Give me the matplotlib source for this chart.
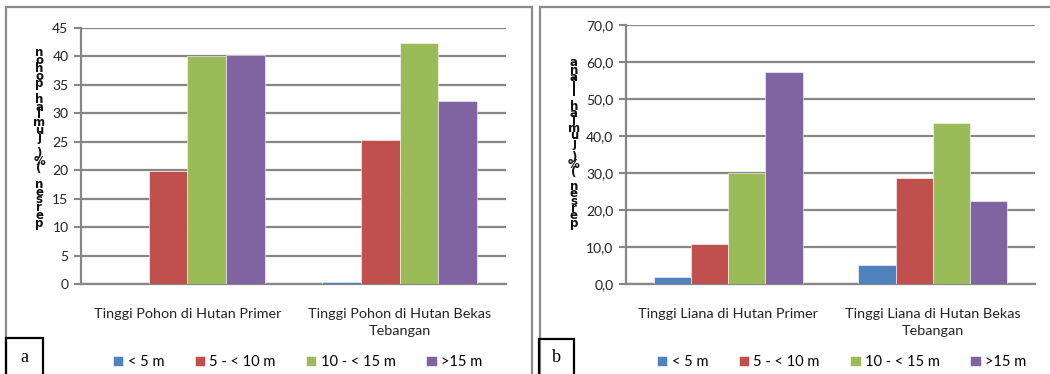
import numpy as np
import matplotlib
matplotlib.use("Agg")
import matplotlib.pyplot as plt
from matplotlib.patches import Rectangle

# data
kelas = ["< 5 m", "5 - < 10 m", "10 - < 15 m", ">15 m"]
warna = ["#4F81BD", "#C0504D", "#9BBB59", "#8064A2"]

pohon_kategori = ["Tinggi Pohon di Hutan Primer", "Tinggi Pohon di Hutan Bekas\nTebangan"]
pohon_lt5 = [0.0, 0.4]
pohon_5_10 = [19.8, 25.4]
pohon_10_15 = [40.1, 42.4]
pohon_gt15 = [40.3, 32.2]

liana_kategori = ["Tinggi Liana di Hutan Primer", "Tinggi Liana di Hutan Bekas\nTebangan"]
liana_lt5 = [1.8, 5.2]
liana_5_10 = [10.8, 28.6]
liana_10_15 = [30.0, 43.6]
liana_gt15 = [57.3, 22.3]

W, H = 1050, 374
plt.rcParams["font.family"] = ["Lato", "DejaVu Sans"]
fig = plt.figure(figsize=(W / 100, H / 100), dpi=100)

abu = "#868686"


def px(x, y):
    # pixel (dari kiri atas) -> koordinat figure
    return x / W, 1 - y / H


def gambar(rect, kategori, seri, ymax, ystep, fmt, judul_y, y_label_x, y_top, huruf, leg_x):
    ax = fig.add_axes(rect)
    x = np.arange(len(kategori))
    lebar = 0.182
    for i, s in enumerate(seri):
        ax.bar(x + (i - 1.5) * lebar, s, lebar, color=warna[i], label=kelas[i],
               edgecolor="white", linewidth=0.4, zorder=3)
    ax.set_xlim(-0.5, len(kategori) - 0.5)
    ax.set_ylim(0, ymax)
    ticks = np.arange(0, ymax + ystep / 2, ystep)
    ax.set_yticks(ticks)
    ax.set_yticklabels([fmt(t) for t in ticks], fontsize=10, color="#222222")
    ax.set_xticks(x)
    ax.set_xticklabels(kategori, fontsize=10.4, color="#222222", linespacing=1.5)
    ax.tick_params(axis="x", length=0, pad=17)
    ax.tick_params(axis="y", length=5, width=1.5, color=abu, pad=4)
    ax.grid(axis="y", color=abu, linewidth=1.6, zorder=0)
    for sp in ["top", "right"]:
        ax.spines[sp].set_visible(False)
    for sp in ["left", "bottom"]:
        ax.spines[sp].set_color(abu)
        ax.spines[sp].set_linewidth(1.6)

    # judul sumbu y: huruf ditumpuk dari bawah ke atas
    y_bawah = 223
    n = len(judul_y)
    jarak = (y_bawah - y_top) / (n - 1)
    for k, ch in enumerate(judul_y):
        fx, fy = px(y_label_x, y_bawah - k * jarak)
        fig.text(fx, fy, ch, ha="center", va="center", fontsize=8.5,
                 fontweight="bold", color="#111111", family="DejaVu Sans")

    # legenda di bawah
    lx, ly = px(leg_x, 362)
    fig.legend(handles=ax.containers, labels=kelas, loc="center left",
               bbox_to_anchor=(lx, ly), ncol=4, frameon=False, fontsize=10.5,
               handlelength=0.7, handleheight=0.7, handletextpad=0.3,
               columnspacing=2.1, borderaxespad=0, borderpad=0)

    # kotak huruf panel
    bx0, by0 = huruf[1], huruf[2]
    fig.add_artist(Rectangle(px(bx0, 376), (huruf[3] - bx0) / W, (376 - by0) / H,
                             transform=fig.transFigure, fill=False,
                             edgecolor="black", linewidth=1.6))
    tx, ty = px((bx0 + huruf[3]) / 2, 357)
    fig.text(tx, ty, huruf[0], ha="center", va="center", fontsize=13,
             family="Liberation Serif", color="black")
    return ax


# bingkai panel
for x0, x1 in [(6, 532), (540, 1060)]:
    fig.add_artist(Rectangle(px(x0, 380), (x1 - x0) / W, (380 - 7) / H,
                             transform=fig.transFigure, fill=False,
                             edgecolor="#8a8a8a", linewidth=1.6))

x0, y0 = px(81, 284)
x1, y1 = px(506, 28)
gambar([x0, y0, x1 - x0, y1 - y0], pohon_kategori,
       [pohon_lt5, pohon_5_10, pohon_10_15, pohon_gt15],
       45, 5, lambda t: "%d" % t, "persen (%) jumlah pohon", 39, 53,
       ("a", 6, 338, 43), 113)

x0, y0 = px(626, 284)
x1, y1 = px(1035, 25)
gambar([x0, y0, x1 - x0, y1 - y0], liana_kategori,
       [liana_lt5, liana_5_10, liana_10_15, liana_gt15],
       70, 10, lambda t: ("%.1f" % t).replace(".", ","), "persen (%) jumlah liana", 574, 63,
       ("b", 539, 339, 574), 657)

fig.savefig("out.png", dpi=100)
